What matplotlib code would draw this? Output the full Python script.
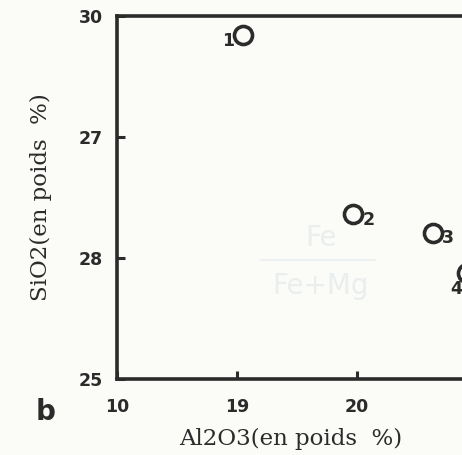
from matplotlib import pyplot as plt

# Al2O3 / SiO2 (poids %) des échantillons 1 à 4
al2o3 = [19.05, 19.97, 20.63, 20.92]
sio2 = [27.84, 26.36, 26.21, 25.88]
numeros = ['1', '2', '3', '4']

x_ticks = [18, 19, 20, 21]
x_labels = ['10', '19', '20', '21']
y_ticks = [25, 26, 27, 28]
y_labels = ['25', '28', '27', '30']

# decalage des numeros par rapport aux cercles (points)
label_offsets = [(-11, -4), (11, -4), (11, -4), (-8, -12)]

ink = '#2b2b2b'
paper = '#fbfbf8'
narrow = ['Liberation Sans Narrow', 'DejaVu Sans']

fig = plt.figure(figsize=(4.62, 4.55), dpi=100, facecolor=paper)
ax = fig.add_axes([0.2532, 0.167, 0.909, 0.7978])
ax.set_facecolor(paper)

ax.plot(al2o3, sio2, linestyle='none', marker='o', markersize=13,
        markerfacecolor='none', markeredgecolor=ink, markeredgewidth=2.6,
        clip_on=False)
for x, y, n, (dx, dy) in zip(al2o3, sio2, numeros, label_offsets):
    ax.annotate(n, (x, y), xytext=(dx, dy), textcoords='offset points',
                ha='center', va='center', fontsize=12.5, fontweight='bold',
                family=narrow, color=ink)

ax.set_xlim(18, 21.5)
ax.set_ylim(25, 28)
ax.set_xticks(x_ticks)
ax.set_xticklabels(x_labels)
ax.set_yticks(y_ticks)
ax.set_yticklabels(y_labels)
ax.tick_params(direction='in', length=6, width=2.2, color=ink,
               labelsize=12.5, labelcolor=ink)
ax.tick_params(axis='x', pad=14)
ax.tick_params(axis='y', pad=10)
for lab in ax.get_xticklabels() + ax.get_yticklabels():
    lab.set_family(narrow)
    lab.set_fontweight('bold')
for side in ['left', 'bottom', 'top', 'right']:
    ax.spines[side].set_linewidth(2.6)
    ax.spines[side].set_color(ink)

ax.set_xlabel('Al2O3(en poids  %)', family='DejaVu Serif', fontsize=16.5,
              color=ink)
ax.xaxis.set_label_coords(0.414, -0.135)
ax.set_ylabel('SiO2(en poids  %)', family='DejaVu Serif', fontsize=16.5,
              color=ink)
ax.yaxis.set_label_coords(-0.155, 0.5)

# texte transparent du verso
ax.text(19.7, 26.1, 'Fe', fontsize=20, color='#e9eeee', ha='center', zorder=0)
ax.plot([19.2, 20.15], [25.98, 25.98], color='#eef1f1', lw=1.5, zorder=0)
ax.text(19.7, 25.7, 'Fe+Mg', fontsize=20, color='#e9eeee', ha='center', zorder=0)

fig.text(0.098, 0.095, 'b', fontsize=20, fontweight='bold', color=ink,
         family='DejaVu Sans', ha='center', va='center')

fig.savefig('out.png', dpi=100, facecolor=paper)
